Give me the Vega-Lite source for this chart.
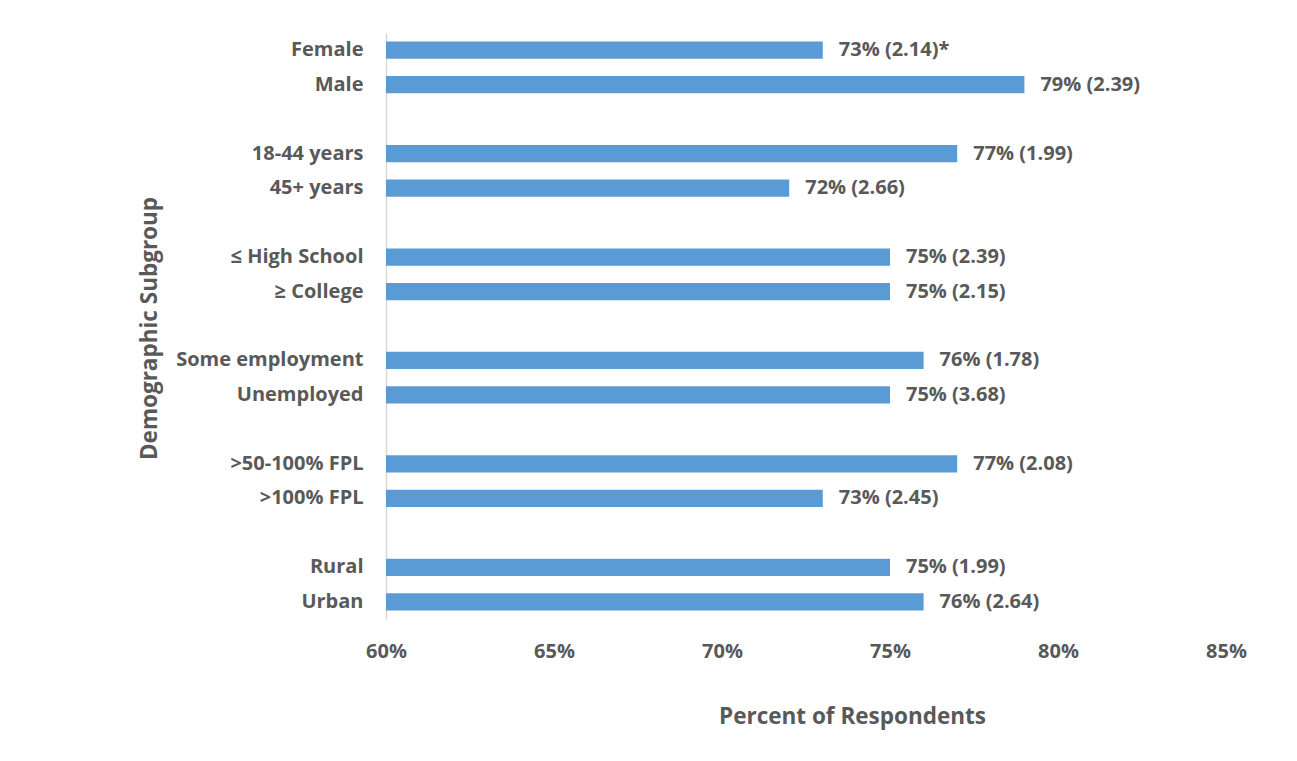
{
  "$schema": "https://vega.github.io/schema/vega-lite/v6.json",
  "width": 840,
  "height": 586,
  "autosize": {"type": "none"},
  "padding": {"left": 386, "top": 33, "right": 71, "bottom": 142},
  "background": "white",
  "config": {
    "view": {"stroke": null},
    "font": "Open Sans",
    "axis": {"grid": false, "ticks": false, "labelColor": "#595959", "titleColor": "#595959", "labelFont": "Open Sans", "titleFont": "Open Sans", "labelFontWeight": "bold", "titleFontWeight": "bold", "labelLimit": 400}
  },
  "data": {
    "values": [
      {"group": "Female", "pct": 73, "label": "73% (2.14)*"},
      {"group": "Male", "pct": 79, "label": "79% (2.39)"},
      {"group": "18-44 years", "pct": 77, "label": "77% (1.99)"},
      {"group": "45+ years", "pct": 72, "label": "72% (2.66)"},
      {"group": "≤ High School", "pct": 75, "label": "75% (2.39)"},
      {"group": "≥ College", "pct": 75, "label": "75% (2.15)"},
      {"group": "Some employment", "pct": 76, "label": "76% (1.78)"},
      {"group": "Unemployed", "pct": 75, "label": "75% (3.68)"},
      {"group": ">50-100% FPL", "pct": 77, "label": "77% (2.08)"},
      {"group": ">100% FPL", "pct": 73, "label": "73% (2.45)"},
      {"group": "Rural", "pct": 75, "label": "75% (1.99)"},
      {"group": "Urban", "pct": 76, "label": "76% (2.64)"}
    ]
  },
  "encoding": {
    "y": {
      "field": "group",
      "type": "nominal",
      "scale": {
        "domain": ["Female", "Male", " ", "18-44 years", "45+ years", "  ", "≤ High School", "≥ College", "   ", "Some employment", "Unemployed", "    ", ">50-100% FPL", ">100% FPL", "     ", "Rural", "Urban"],
        "paddingInner": 0.5,
        "paddingOuter": 0.25
      },
      "axis": {
        "title": "Demographic Subgroup",
        "labelFontSize": 20,
        "labelPadding": 23,
        "labelLimit": 400,
        "domainColor": "#d9d9d9",
        "domainWidth": 1.5,
        "titleFontSize": 22.5,
        "titleAngle": 270,
        "titleX": -237,
        "titleY": 295,
        "titleAlign": "center",
        "titleBaseline": "middle"
      }
    }
  },
  "layer": [
    {
      "mark": {"type": "bar", "color": "#5B9BD5"},
      "encoding": {
        "x": {
          "field": "pct",
          "type": "quantitative",
          "scale": {"domain": [60, 85], "zero": false, "nice": false},
          "axis": {
            "values": [60, 65, 70, 75, 80, 85],
            "labelExpr": "datum.value + '%'",
            "labelFontSize": 20,
            "labelFlush": false,
            "labelBaseline": "alphabetic",
            "labelPadding": 38,
            "domain": false,
            "title": "Percent of Respondents",
            "titleFontSize": 22.5,
            "titleX": 466,
            "titleY": 104,
            "titleBaseline": "alphabetic",
            "titleAlign": "center"
          }
        },
        "x2": {"datum": 60}
      }
    },
    {
      "mark": {"type": "text", "align": "left", "baseline": "middle", "dx": 16, "fontSize": 20, "fontWeight": "bold", "color": "#595959", "font": "Open Sans"},
      "encoding": {
        "x": {"field": "pct", "type": "quantitative"},
        "text": {"field": "label"}
      }
    }
  ]
}
